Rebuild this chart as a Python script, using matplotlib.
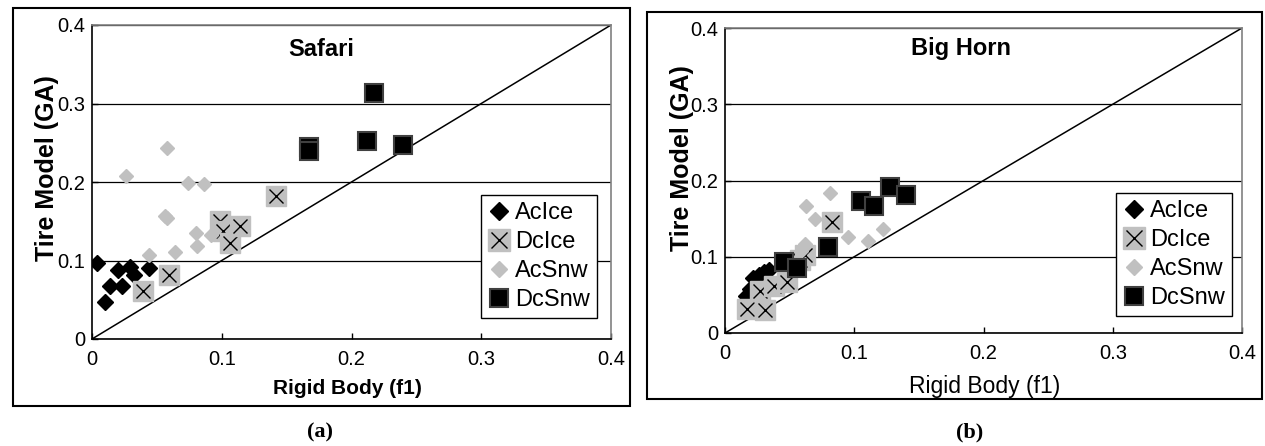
import matplotlib
matplotlib.use("Agg")
import matplotlib.pyplot as plt
from matplotlib.patches import Rectangle
from matplotlib.lines import Line2D
from matplotlib.legend_handler import HandlerTuple

# figure size in pixels
W, H = 1265, 446

# tick values / labels (same on both panels)
ticks = [0, 0.1, 0.2, 0.3, 0.4]
tick_labels = ["0", "0.1", "0.2", "0.3", "0.4"]
series_names = ["AcIce", "DcIce", "AcSnw", "DcSnw"]

# (a) Safari
safari_acice_x = [0.004, 0.010, 0.014, 0.020, 0.023, 0.029, 0.032, 0.044]
safari_acice_y = [0.097, 0.047, 0.067, 0.088, 0.067, 0.092, 0.082, 0.091]
safari_dcice_x = [0.039, 0.059, 0.099, 0.101, 0.106, 0.114, 0.142]
safari_dcice_y = [0.061, 0.082, 0.150, 0.138, 0.122, 0.144, 0.182]
safari_acsnw_x = [0.026, 0.058, 0.074, 0.086, 0.056, 0.058, 0.044, 0.064, 0.080, 0.081, 0.092]
safari_acsnw_y = [0.208, 0.243, 0.199, 0.197, 0.157, 0.154, 0.107, 0.111, 0.135, 0.119, 0.133]
safari_dcsnw_x = [0.167, 0.167, 0.212, 0.217, 0.240]
safari_dcsnw_y = [0.245, 0.239, 0.252, 0.313, 0.247]

# (b) Big Horn
bighorn_acice_x = [0.016, 0.019, 0.022, 0.026, 0.030, 0.034]
bighorn_acice_y = [0.048, 0.058, 0.072, 0.076, 0.080, 0.082]
bighorn_dcice_x = [0.017, 0.031, 0.027, 0.038, 0.048, 0.058, 0.062, 0.083]
bighorn_dcice_y = [0.031, 0.030, 0.055, 0.062, 0.067, 0.096, 0.102, 0.145]
bighorn_acsnw_x = [0.063, 0.081, 0.070, 0.095, 0.111, 0.122, 0.062, 0.059]
bighorn_acsnw_y = [0.167, 0.183, 0.150, 0.126, 0.121, 0.137, 0.117, 0.108]
bighorn_dcsnw_x = [0.105, 0.115, 0.128, 0.140, 0.080, 0.046, 0.056]
bighorn_dcsnw_y = [0.173, 0.166, 0.191, 0.181, 0.113, 0.093, 0.085]

GRAY = "#c0c0c0"

plt.rcParams["font.family"] = ["Liberation Sans", "DejaVu Sans"]


def px(x, y):
    # pixel position -> figure fraction
    return x / W, 1 - y / H


def draw_panel(ax, acice, dcice, acsnw, dcsnw):
    ax.set_xlim(0, 0.4)
    ax.set_ylim(0, 0.4)
    ax.set_xticks(ticks)
    ax.set_yticks(ticks)
    ax.set_xticklabels(tick_labels)
    ax.set_yticklabels(tick_labels)
    ax.tick_params(axis="both", labelsize=14.5, direction="in", length=4, width=1)
    ax.tick_params(axis="x", pad=8)
    ax.tick_params(axis="y", pad=5)
    for s in ["left", "bottom"]:
        ax.spines[s].set_color("black")
        ax.spines[s].set_linewidth(1.2)
    for s in ["top", "right"]:
        ax.spines[s].set_color("#808080")
        ax.spines[s].set_linewidth(1.2)
    ax.yaxis.grid(True, color="black", lw=0.9)
    ax.set_axisbelow(True)

    ax.plot([0, 0.4], [0, 0.4], color="black", lw=1.1, zorder=2)

    ax.plot(acice[0], acice[1], ls="none", marker="D", ms=8.5,
            mfc="black", mec="black", zorder=3)
    for i, (xv, yv) in enumerate(zip(dcice[0], dcice[1])):
        z = 4 + 0.01 * i
        ax.plot(xv, yv, ls="none", marker="s", ms=15, mfc=GRAY, mec=GRAY, zorder=z)
        ax.plot(xv, yv, ls="none", marker="x", ms=10, mec="black", mew=1.0, zorder=z + 0.005)
    ax.plot(acsnw[0], acsnw[1], ls="none", marker="D", ms=7.5,
            mfc=GRAY, mec=GRAY, zorder=5)
    ax.plot(dcsnw[0], dcsnw[1], ls="none", marker="s", ms=13,
            mfc="black", mec="#404040", mew=1.5, zorder=6)


def add_legend(fig, x, y):
    h_acice = Line2D([], [], ls="none", marker="D", ms=9, mfc="black", mec="black")
    h_dcice = (Line2D([], [], ls="none", marker="s", ms=16, mfc=GRAY, mec=GRAY),
               Line2D([], [], ls="none", marker="x", ms=12, mec="black", mew=1.0))
    h_acsnw = Line2D([], [], ls="none", marker="D", ms=8, mfc=GRAY, mec=GRAY)
    h_dcsnw = Line2D([], [], ls="none", marker="s", ms=13, mfc="black", mec="#404040", mew=1.5)
    leg = fig.legend([h_acice, h_dcice, h_acsnw, h_dcsnw], series_names,
                     loc="upper left", bbox_to_anchor=px(x, y),
                     bbox_transform=fig.transFigure, borderaxespad=0,
                     handler_map={tuple: HandlerTuple(ndivide=1)},
                     fontsize=17, frameon=True, fancybox=False, framealpha=1,
                     edgecolor="black", borderpad=0.3, labelspacing=0.3,
                     handlelength=0.9, handletextpad=0.25)
    leg.get_frame().set_linewidth(1.0)
    return leg


fig = plt.figure(figsize=(W / 100, H / 100), dpi=100)

# panel frames
fig.patches.append(Rectangle(px(13, 406), (630 - 13) / W, (406 - 8) / H,
                             transform=fig.transFigure, fill=False,
                             edgecolor="black", lw=1.5))
fig.patches.append(Rectangle(px(647, 399), (1262 - 647) / W, (399 - 12) / H,
                             transform=fig.transFigure, fill=False,
                             edgecolor="black", lw=1.5))

ax1 = fig.add_axes([92 / W, 1 - 339 / H, (611 - 92) / W, (339 - 25) / H])
draw_panel(ax1, (safari_acice_x, safari_acice_y), (safari_dcice_x, safari_dcice_y),
           (safari_acsnw_x, safari_acsnw_y), (safari_dcsnw_x, safari_dcsnw_y))

ax2 = fig.add_axes([725 / W, 1 - 333 / H, (1242 - 725) / W, (333 - 28) / H])
draw_panel(ax2, (bighorn_acice_x, bighorn_acice_y), (bighorn_dcice_x, bighorn_dcice_y),
           (bighorn_acsnw_x, bighorn_acsnw_y), (bighorn_dcsnw_x, bighorn_dcsnw_y))

add_legend(fig, 481, 195)
add_legend(fig, 1116, 193)

# titles and axis labels
fig.text(*px(321, 50), "Safari", ha="center", va="center", fontsize=17, fontweight="bold")
fig.text(*px(961, 48), "Big Horn", ha="center", va="center", fontsize=17, fontweight="bold")
fig.text(*px(47, 168), "Tire Model (GA)", ha="center", va="center", rotation=90,
         fontsize=18, fontweight="bold")
fig.text(*px(682, 158), "Tire Model (GA)", ha="center", va="center", rotation=90,
         fontsize=18, fontweight="bold")
fig.text(*px(347, 389), "Rigid Body (f1)", ha="center", va="center", fontsize=15,
         fontweight="bold")
fig.text(*px(985, 387), "Rigid Body (f1)", ha="center", va="center", fontsize=16.5)
fig.text(*px(320, 432), "(a)", ha="center", va="center", fontsize=16,
         fontweight="bold", family=["Liberation Serif", "DejaVu Serif"])
fig.text(*px(970, 432), "(b)", ha="center", va="center", fontsize=16,
         fontweight="bold", family=["Liberation Serif", "DejaVu Serif"])

fig.savefig("out.png", dpi=100)
